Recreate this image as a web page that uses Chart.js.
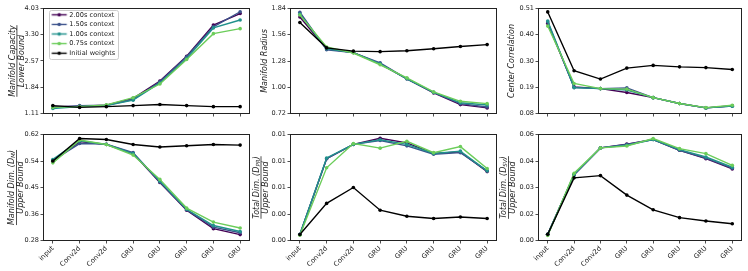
<!DOCTYPE html>
<html>
<head>
<meta charset="utf-8">
<script src="https://cdn.jsdelivr.net/npm/chart.js@4.4.0/dist/chart.umd.min.js"></script>
<style>
  body { margin: 0; background: #fff; }
  #fig { position: relative; width: 748px; height: 271px; }
  #fig canvas { position: absolute; left: 0; top: 0; }
</style>
</head>
<body>
<div id="fig"></div>
<script>
// layers along the x axis
const layers = ["input", "Conv2d", "Conv2d", "GRU", "GRU", "GRU", "GRU", "GRU"];
const seriesNames = ["2.00s context", "1.50s context", "1.00s context", "0.75s context", "Initial weights"];
const seriesColors = ["#440154", "#3b528b", "#21918c", "#6ccd5a", "#000000"];

// Manifold capacity / lower bound
const capacity200 = [1.30, 1.31, 1.34, 1.53, 2.01, 2.70, 3.57, 3.89];
const capacity150 = [1.28, 1.33, 1.34, 1.50, 1.99, 2.69, 3.52, 3.94];
const capacity100 = [1.25, 1.30, 1.33, 1.48, 1.96, 2.64, 3.49, 3.71];
const capacity075 = [1.28, 1.30, 1.35, 1.55, 1.93, 2.61, 3.33, 3.47];
const capacityInit = [1.33, 1.28, 1.30, 1.33, 1.36, 1.33, 1.30, 1.30];
const capacityTicks = ["1.11", "1.84", "2.57", "3.30", "4.03"];
const capacityRange = [1.11, 4.03];

// Manifold radius
const radius200 = [1.75, 1.41, 1.37, 1.25, 1.09, 0.94, 0.815, 0.78];
const radius150 = [1.80, 1.40, 1.37, 1.26, 1.09, 0.945, 0.825, 0.79];
const radius100 = [1.78, 1.41, 1.37, 1.25, 1.09, 0.945, 0.835, 0.81];
const radius075 = [1.77, 1.43, 1.365, 1.24, 1.10, 0.95, 0.85, 0.825];
const radiusInit = [1.69, 1.42, 1.385, 1.38, 1.39, 1.41, 1.435, 1.455];
const radiusTicks = ["0.72", "1.00", "1.28", "1.56", "1.84"];
const radiusRange = [0.72, 1.84];

// Center correlation
const corr200 = [0.449, 0.189, 0.182, 0.166, 0.145, 0.121, 0.103, 0.112];
const corr150 = [0.455, 0.186, 0.182, 0.185, 0.145, 0.121, 0.103, 0.110];
const corr100 = [0.459, 0.186, 0.182, 0.176, 0.145, 0.121, 0.103, 0.110];
const corr075 = [0.438, 0.203, 0.182, 0.180, 0.145, 0.121, 0.104, 0.114];
const corrInit = [0.496, 0.255, 0.221, 0.266, 0.277, 0.271, 0.268, 0.260];
const corrTicks = ["0.08", "0.19", "0.30", "0.40", "0.51"];
const corrRange = [0.08, 0.51];

// Manifold dimension / upper bound
const dim200 = [0.534, 0.597, 0.588, 0.559, 0.466, 0.377, 0.318, 0.299];
const dim150 = [0.537, 0.591, 0.589, 0.562, 0.468, 0.379, 0.323, 0.305];
const dim100 = [0.540, 0.600, 0.588, 0.559, 0.470, 0.380, 0.328, 0.309];
const dim075 = [0.529, 0.602, 0.588, 0.554, 0.476, 0.384, 0.339, 0.320];
const dimInit = [0.535, 0.607, 0.604, 0.588, 0.580, 0.584, 0.588, 0.586];
const dimTicks = ["0.28", "0.36", "0.45", "0.54", "0.62"];
const dimRange = [0.28, 0.62];

// Total dimension (participation ratio) / upper bound
const pr200 = [0.0008, 0.0108, 0.0127, 0.0135, 0.0129, 0.0115, 0.0117, 0.0091];
const pr150 = [0.0008, 0.0108, 0.0127, 0.0132, 0.0125, 0.0114, 0.0116, 0.0092];
const pr100 = [0.0008, 0.0109, 0.0127, 0.0133, 0.0127, 0.0115, 0.0118, 0.0092];
const pr075 = [0.0007, 0.0096, 0.0128, 0.0122, 0.0131, 0.0116, 0.0124, 0.0095];
const prInit = [0.0008, 0.0049, 0.0070, 0.0040, 0.0032, 0.0029, 0.0031, 0.0029];
const prTicks = ["0.00", "0.00", "0.01", "0.01", "0.01"];
const prRange = [0.0, 0.014];

// Total dimension (SV) / upper bound
const sv200 = [0.0053, 0.0373, 0.0518, 0.0538, 0.0563, 0.0505, 0.0460, 0.0405];
const sv150 = [0.0053, 0.0373, 0.0518, 0.0536, 0.0563, 0.0505, 0.0463, 0.0409];
const sv100 = [0.0053, 0.0376, 0.0518, 0.0532, 0.0563, 0.0509, 0.0469, 0.0414];
const sv075 = [0.0047, 0.0382, 0.0518, 0.0528, 0.0568, 0.0514, 0.0487, 0.0424];
const svInit = [0.0053, 0.0357, 0.0369, 0.0264, 0.0185, 0.0143, 0.0125, 0.0110];
const svTicks = ["0.00", "0.02", "0.03", "0.04", "0.06"];
const svRange = [0.002, 0.059];

Chart.defaults.font.family = "'DejaVu Sans', sans-serif";
const TEXT = "#222";

// plot areas (px) of the 2x3 grid
const colX = [[43.5, 249.5], [290.5, 496.5], [538.5, 741.5]];
const rowY = [[8.5, 113.5], [134.5, 240.5]];
const Y_W = 40;

const panels = [
  { row: 0, col: 0, series: [capacity200, capacity150, capacity100, capacity075, capacityInit],
    ticks: capacityTicks, range: capacityRange, legend: true,
    title: { num: "Manifold Capacity", den: "Lower Bound", at: [-31, -26.6, -22] } },
  { row: 0, col: 1, series: [radius200, radius150, radius100, radius075, radiusInit],
    ticks: radiusTicks, range: radiusRange,
    title: { num: "Manifold Radius", at: [-26] } },
  { row: 0, col: 2, series: [corr200, corr150, corr100, corr075, corrInit],
    ticks: corrTicks, range: corrRange,
    title: { num: "Center Correlation", at: [-26.5] } },
  { row: 1, col: 0, series: [dim200, dim150, dim100, dim075, dimInit],
    ticks: dimTicks, range: dimRange,
    title: { num: "Manifold Dim. (D_M)", den: "Upper Bound", at: [-32, -27, -22.5] } },
  { row: 1, col: 1, series: [pr200, pr150, pr100, pr075, prInit],
    ticks: prTicks, range: prRange,
    title: { num: "Total Dim. (D_PR)", den: "Upper Bound", at: [-34, -29.5, -25] } },
  { row: 1, col: 2, series: [sv200, sv150, sv100, sv075, svInit],
    ticks: svTicks, range: svRange,
    title: { num: "Total Dim. (D_SV)", den: "Upper Bound", at: [-35, -30, -26] } },
];

function legendIcon(color) {
  const c = document.createElement("canvas");
  c.width = 26; c.height = 5;
  const g = c.getContext("2d");
  g.strokeStyle = color; g.lineWidth = 1.4;
  g.beginPath(); g.moveTo(8.5, 2.5); g.lineTo(23.5, 2.5); g.stroke();
  g.fillStyle = color;
  g.beginPath(); g.arc(16, 2.5, 1.8, 0, Math.PI * 2); g.fill();
  return c;
}
const icons = seriesColors.map(legendIcon);

// box round the plot area
const frame = {
  id: "frame",
  afterDatasetsDraw(chart) {
    const a = chart.chartArea, ctx = chart.ctx;
    ctx.save();
    ctx.strokeStyle = "#222"; ctx.lineWidth = 1;
    ctx.strokeRect(a.left, a.top, a.right - a.left, a.bottom - a.top);
    ctx.restore();
  }
};

// legend sits in the upper left of the plot area, with a rounded frame behind it
const legendFrame = {
  id: "legendFrame",
  afterLayout(chart) {
    const lg = chart.legend;
    if (!lg || !lg.options.display) return;
    const a = chart.chartArea;
    lg.top = a.top; lg.bottom = a.bottom; lg.left = a.left; lg.right = a.right;
  },
  beforeDraw(chart) {
    const lg = chart.legend;
    if (!lg || !lg.options.display || !lg.legendHitBoxes.length) return;
    const hb = lg.legendHitBoxes;
    const x0 = Math.min(...hb.map(h => h.left)) + 2.5;
    const y0 = hb[0].top - 2;
    const x1 = Math.max(...hb.map(h => h.left + h.width)) + 3;
    const y1 = hb[hb.length - 1].top + hb[hb.length - 1].height + 2;
    const ctx = chart.ctx;
    ctx.save();
    ctx.fillStyle = "rgba(255,255,255,0.8)";
    ctx.strokeStyle = "#cccccc"; ctx.lineWidth = 1;
    ctx.beginPath();
    ctx.roundRect(Math.round(x0) + 0.5, Math.round(y0) + 0.5, Math.round(x1 - x0), Math.round(y1 - y0), 2);
    ctx.fill(); ctx.stroke();
    ctx.restore();
  }
};

// split "Total Dim. (D_PR)" into normal and subscript pieces
function pieces(s) {
  const out = [];
  s.split(/_(\w+)/).forEach((t, i) => { if (t) out.push({ t, sub: i % 2 === 1 }); });
  return out;
}

const yTitle = {
  id: "yTitle",
  afterDraw(chart, args, opts) {
    const t = opts.spec;
    if (!t) return;
    const a = chart.chartArea, ctx = chart.ctx;
    const cy = (a.top + a.bottom) / 2;
    const main = "italic 8px 'DejaVu Sans'";
    const small = "italic 5.6px 'DejaVu Sans'";
    function lineWidth(s) {
      return pieces(s).reduce((w, p) => { ctx.font = p.sub ? small : main; return w + ctx.measureText(p.t).width; }, 0);
    }
    function drawLine(s, x) {
      const w = lineWidth(s);
      ctx.save();
      ctx.translate(a.left + x, cy);
      ctx.rotate(-Math.PI / 2);
      ctx.textBaseline = "middle"; ctx.textAlign = "left";
      let px = -w / 2;
      pieces(s).forEach(p => {
        ctx.font = p.sub ? small : main;
        ctx.fillText(p.t, px, p.sub ? 2 : 0);
        px += ctx.measureText(p.t).width;
      });
      ctx.restore();
      return w;
    }
    ctx.save();
    ctx.fillStyle = TEXT;
    const w1 = drawLine(t.num, t.at[0]);
    if (t.den) {
      const w2 = drawLine(t.den, t.at[2]);
      const w = Math.max(w1, w2);
      ctx.strokeStyle = TEXT; ctx.lineWidth = 0.8;
      ctx.beginPath();
      ctx.moveTo(a.left + t.at[1], cy - w / 2);
      ctx.lineTo(a.left + t.at[1], cy + w / 2);
      ctx.stroke();
    }
    ctx.restore();
  }
};

const fig = document.getElementById("fig");

panels.forEach(p => {
  const canvas = document.createElement("canvas");
  canvas.width = 748; canvas.height = 271;
  fig.appendChild(canvas);
  const [left, right] = colX[p.col];
  const [top, bottom] = rowY[p.row];
  const xH = p.row === 1 ? 30 : 5;
  const n = p.ticks.length;

  new Chart(canvas.getContext("2d"), {
    type: "line",
    data: {
      datasets: p.series.map((vals, k) => ({
        label: seriesNames[k],
        data: vals.map((v, i) => ({ x: i, y: v })),
        borderColor: seriesColors[k],
        backgroundColor: seriesColors[k],
        borderWidth: 1.4,
        pointRadius: 1.8,
        pointBorderWidth: 0,
        pointStyle: "circle",
        order: p.series.length - k,
      }))
    },
    options: {
      responsive: false,
      animation: false,
      devicePixelRatio: 1,
      layout: { padding: { left: left - Y_W, right: 748 - right, top: top, bottom: 271 - bottom - xH } },
      scales: {
        x: {
          type: "linear", min: -0.35, max: 7.35,
          afterBuildTicks: ax => { ax.ticks = layers.map((_, i) => ({ value: i })); },
          afterFit: ax => { ax.height = xH; },
          ticks: {
            display: p.row === 1,
            callback: (v, i) => layers[i],
            minRotation: 45, maxRotation: 45, autoSkip: false,
            font: { size: 6.8 }, color: TEXT, padding: 1,
          },
          grid: { drawOnChartArea: false, tickLength: 3, tickColor: "#222", tickWidth: 0.8 },
          border: { display: false },
        },
        y: {
          type: "linear", min: p.range[0], max: p.range[1],
          afterBuildTicks: ax => {
            ax.ticks = p.ticks.map((_, i) => ({ value: p.range[0] + i * (p.range[1] - p.range[0]) / (n - 1) }));
          },
          afterFit: ax => { ax.width = Y_W; },
          ticks: { callback: (v, i) => p.ticks[i], font: { size: 6.5 }, color: TEXT, padding: 1.5, autoSkip: false },
          grid: { drawOnChartArea: false, tickLength: 3, tickColor: "#222", tickWidth: 0.8 },
          border: { display: false },
        }
      },
      plugins: {
        tooltip: { enabled: false },
        yTitle: { spec: p.title },
        legend: {
          display: !!p.legend,
          position: "chartArea",
          align: "start",
          labels: {
            usePointStyle: true,
            pointStyleWidth: 19.5,
            boxHeight: 5,
            padding: 3,
            font: { size: 6.6 },
            color: TEXT,
            sort: (a, b) => a.datasetIndex - b.datasetIndex,
            generateLabels: chart => Chart.defaults.plugins.legend.labels.generateLabels(chart)
              .map(it => Object.assign(it, { pointStyle: icons[it.datasetIndex] })),
          }
        }
      }
    },
    plugins: [frame, legendFrame, yTitle]
  });
});
</script>
</body>
</html>
